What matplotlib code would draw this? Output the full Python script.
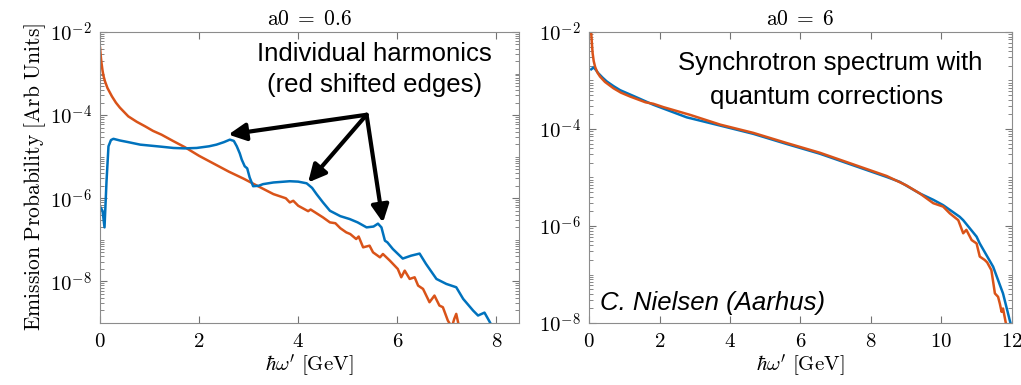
import matplotlib
matplotlib.use("Agg")
import matplotlib.pyplot as plt
from matplotlib.ticker import FixedLocator, LogLocator, FuncFormatter, NullFormatter
import numpy as np

# values: photon energy [GeV] and log10(emission probability)
left_blue_x = [0.00, 0.05, 0.09, 0.13, 0.17, 0.22, 0.27, 0.40, 0.57, 0.81, 1.24, 1.48, 1.71, 1.95, 2.20, 2.35,
               2.50, 2.62, 2.70, 2.76, 2.82, 2.86, 2.92, 2.97, 3.02, 3.09, 3.20, 3.29, 3.50, 3.83,
               4.00, 4.17, 4.28, 4.37, 4.50, 4.64, 4.85, 5.04, 5.20, 5.38, 5.52, 5.61, 5.68, 5.75,
               5.80, 5.91, 6.11, 6.28, 6.45, 6.58, 6.79, 6.99, 7.19, 7.33, 7.53, 7.63, 7.76, 7.85, 7.90]
left_blue_log = [-6.20, -6.30, -6.70, -5.60, -4.75, -4.60, -4.57, -4.61, -4.65, -4.71, -4.76, -4.79, -4.80, -4.79, -4.75, -4.71,
                 -4.65, -4.59, -4.62, -4.75, -4.92, -5.07, -5.23, -5.28, -5.50, -5.71, -5.70, -5.66, -5.62, -5.59,
                 -5.60, -5.64, -5.75, -5.90, -6.10, -6.30, -6.43, -6.50, -6.58, -6.70, -6.68, -6.61, -6.70, -7.02,
                 -7.06, -7.22, -7.45, -7.38, -7.33, -7.58, -7.94, -8.06, -8.14, -8.42, -8.70, -8.82, -8.75, -8.94, -9.05]

left_red_x = [0.00, 0.01, 0.02, 0.03, 0.05, 0.07, 0.10, 0.15, 0.24, 0.32, 0.40, 0.57, 0.74, 0.91, 1.07,
              1.24, 1.47, 1.71, 2.00, 2.30, 2.60, 2.90, 3.19, 3.50,
              3.75, 3.83, 3.90, 4.00, 4.20, 4.25, 4.50, 4.64, 4.75, 4.85, 4.97, 5.05, 5.17, 5.22,
              5.31, 5.44, 5.51, 5.65, 5.71, 5.85, 6.01, 6.08, 6.15, 6.25, 6.35, 6.42, 6.52, 6.65,
              6.75, 6.85, 6.92, 7.02, 7.10, 7.15, 7.19, 7.23, 7.26]
left_red_log = [-2.38, -2.52, -2.65, -2.75, -2.93, -3.06, -3.19, -3.35, -3.55, -3.70, -3.82, -4.03, -4.16, -4.27, -4.38,
                -4.47, -4.62, -4.77, -4.98, -5.17, -5.36, -5.53, -5.71, -5.90,
                -6.00, -6.10, -6.06, -6.18, -6.31, -6.27, -6.46, -6.58, -6.60, -6.72, -6.82, -6.86, -6.98, -6.92,
                -7.18, -7.14, -7.30, -7.42, -7.34, -7.50, -7.70, -7.90, -7.74, -7.94, -7.90, -8.10, -8.18, -8.50,
                -8.34, -8.58, -8.62, -8.94, -9.10, -8.90, -8.78, -9.00, -9.10]

right_blue_x = [0.06, 0.13, 0.20, 0.26, 0.38, 0.50, 0.70, 0.88, 1.26, 1.82, 2.77, 3.72, 4.66, 5.61, 6.55, 7.50, 8.45,
                8.82, 9.39, 9.77, 10.05, 10.52, 10.62, 11.00, 11.09, 11.47, 11.75, 11.94, 12.00]
right_blue_log = [-2.77, -2.73, -2.79, -2.85, -2.94, -3.02, -3.12, -3.20, -3.32, -3.50, -3.76, -3.93, -4.10, -4.31,
                  -4.51, -4.75, -4.99, -5.09, -5.33, -5.46, -5.57, -5.81, -5.88, -6.22, -6.36, -6.84, -7.39, -7.94, -8.10]

right_red_x = [0.06, 0.08, 0.10, 0.13, 0.17, 0.23, 0.31, 0.45, 0.69, 0.90, 1.16, 1.60, 1.82, 2.11, 2.87, 3.72,
               4.66, 5.61, 6.55, 7.50, 8.45,
               9.00, 9.39, 9.77, 10.05, 10.24, 10.48, 10.62, 10.71, 10.86, 11.00, 11.09, 11.23, 11.30,
               11.42, 11.52, 11.61, 11.66, 11.71, 11.75, 11.83, 11.88]
right_red_log = [-2.03, -2.25, -2.44, -2.60, -2.72, -2.83, -2.92, -3.03, -3.16, -3.25, -3.33, -3.45, -3.48, -3.55,
                 -3.71, -3.91, -4.08, -4.29, -4.49, -4.73, -4.97,
                 -5.16, -5.33, -5.53, -5.60, -5.74, -5.88, -6.15, -6.08, -6.29, -6.36, -6.63, -6.70, -6.75,
                 -6.91, -7.39, -7.46, -7.60, -7.77, -7.70, -8.00, -8.10]

# arrows: tail and three heads (x, y)
arrow_tail = (5.38, 1.02e-4)
arrow_heads = [(2.59, 3.4e-5), (4.20, 2.4e-6), (5.71, 2.6e-7)]

blue = "#0072BD"
red = "#D95319"

plt.rcParams["mathtext.fontset"] = "cm"
plt.rcParams["font.size"] = 13

fig = plt.figure(figsize=(10.21, 3.85), dpi=100)
ax1 = fig.add_axes([0.098, 0.161, 0.410, 0.756])
ax2 = fig.add_axes([0.577, 0.161, 0.414, 0.756])


def style_axes(ax, ymin, xmax, xticks):
    ax.set_yscale("log")
    ax.set_ylim(ymin, 1e-2)
    ax.set_xlim(0, xmax)
    ax.set_xticks(xticks)
    ax.xaxis.set_major_formatter(FuncFormatter(lambda v, p: r"$%d$" % round(v)))
    ax.yaxis.set_major_locator(FixedLocator([1e-2, 1e-4, 1e-6, 1e-8]))
    ax.yaxis.set_minor_locator(LogLocator(base=10, subs=np.arange(1, 10), numticks=20))
    ax.yaxis.set_minor_formatter(NullFormatter())
    ax.yaxis.set_major_formatter(FuncFormatter(lambda v, p: r"$10^{%d}$" % round(np.log10(v))))
    ax.tick_params(which="both", direction="in", top=True, right=True, color="0.45",
                   labelsize=15, pad=6)
    ax.tick_params(which="major", length=5)
    ax.tick_params(which="minor", length=3)
    for s in ax.spines.values():
        s.set_color("0.55")
        s.set_linewidth(0.8)
    ax.set_xlabel(r"$\hbar\omega^{\prime}\ \mathrm{[GeV]}$", fontsize=15, labelpad=1)


ax1.plot(left_red_x, 10.0 ** np.array(left_red_log), color=red, lw=1.8)
ax1.plot(left_blue_x, 10.0 ** np.array(left_blue_log), color=blue, lw=1.8)
style_axes(ax1, 1e-9, 8.45, [0, 2, 4, 6, 8])
ax1.set_title(r"$\mathrm{a0}\;=\;0.6$", fontsize=15.5, pad=5)
ax1.set_ylabel(r"$\mathrm{Emission\ Probability\ [Arb\ Units]}$", fontsize=15.5, labelpad=1)

for head in arrow_heads:
    ax1.annotate("", xy=head, xytext=arrow_tail,
                 arrowprops=dict(arrowstyle="-|>", lw=3, color="k", mutation_scale=26,
                                 shrinkA=0, shrinkB=0))

ax2.plot(right_blue_x, 10.0 ** np.array(right_blue_log), color=blue, lw=1.8)
ax2.plot(right_red_x, 10.0 ** np.array(right_red_log), color=red, lw=1.8)
style_axes(ax2, 1e-8, 12, [0, 2, 4, 6, 8, 10, 12])
ax2.set_title(r"$\mathrm{a0}\;=\;6$", fontsize=15.5, pad=5)

sans = "Liberation Sans"
fig.text(0.367, 0.860, "Individual harmonics", family=sans, fontsize=18.5, ha="center", va="center")
fig.text(0.367, 0.779, "(red shifted edges)", family=sans, fontsize=18.5, ha="center", va="center")
fig.text(0.813, 0.836, "Synchrotron spectrum with", family=sans, fontsize=18.5, ha="center", va="center")
fig.text(0.810, 0.749, "quantum corrections", family=sans, fontsize=18.5, ha="center", va="center")
fig.text(0.588, 0.213, "C. Nielsen (Aarhus)", family=sans, style="italic", fontsize=18.5,
         ha="left", va="center")

fig.savefig("out.png", dpi=100)
